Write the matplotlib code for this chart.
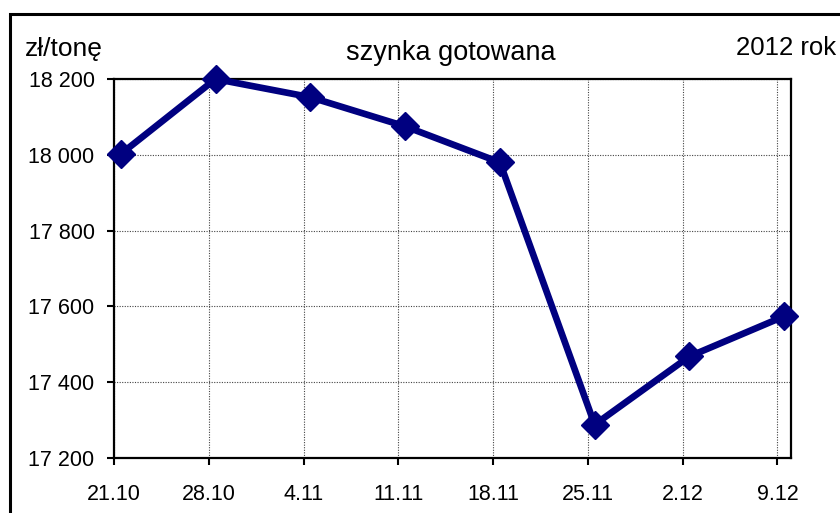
import matplotlib
matplotlib.use("Agg")
import matplotlib.pyplot as plt
from matplotlib.patches import Rectangle
from matplotlib.ticker import FuncFormatter
import pandas as pd

plt.rcParams["font.family"] = ["Liberation Sans", "DejaVu Sans"]

# notowania tygodniowe (środek dnia)
daty = pd.to_datetime([
    "2012-10-21 12:00", "2012-10-28 12:00", "2012-11-04 12:00", "2012-11-11 12:00",
    "2012-11-18 12:00", "2012-11-25 12:00", "2012-12-02 12:00", "2012-12-09 12:00",
])
ceny = [18002, 18200, 18152, 18075, 17980, 17288, 17468, 17574]
etykiety_x = ["21.10", "28.10", "4.11", "11.11", "18.11", "25.11", "2.12", "9.12"]
ticki_x = pd.to_datetime([
    "2012-10-21", "2012-10-28", "2012-11-04", "2012-11-11",
    "2012-11-18", "2012-11-25", "2012-12-02", "2012-12-09",
])

W, H = 840, 513
fig = plt.figure(figsize=(W / 100, H / 100), dpi=100)
ax = fig.add_axes([114 / W, 1 - 458 / H, (791 - 114) / W, (458 - 79) / H])

ax.plot(daty, ceny, color="#000080", linewidth=4.8, marker="D",
        markersize=14, solid_joinstyle="miter", zorder=3, clip_on=False)

ax.set_xlim(pd.Timestamp("2012-10-21"), pd.Timestamp("2012-12-10"))
ax.set_ylim(17200, 18200)
ax.set_xticks(ticki_x)
ax.set_xticklabels(etykiety_x)
ax.set_yticks(range(17200, 18201, 200))
ax.yaxis.set_major_formatter(FuncFormatter(lambda v, p: f"{v:,.0f}".replace(",", " ")))

ax.grid(True, color="#444444", linestyle=(0, (1, 1.3)), linewidth=0.8)
ax.tick_params(axis="both", length=5, width=1.5, labelsize=15.5, color="black")
ax.tick_params(axis="x", pad=14)
ax.tick_params(axis="y", pad=9)
for s in ax.spines.values():
    s.set_linewidth(1.6)
    s.set_color("black")

# ramka wykresu
fig.patches.append(Rectangle((10 / W, -0.1), 1.2, 1 - 14 / H + 0.1,
                             transform=fig.transFigure, fill=False,
                             edgecolor="black", linewidth=2.2))

fig.text(25 / W, 1 - 56 / H, "zł/tonę", fontsize=19, ha="left", va="baseline")
fig.text(451 / W, 1 - 60 / H, "szynka gotowana", fontsize=19.5, ha="center", va="baseline")
fig.text(836 / W, 1 - 55 / H, "2012 rok", fontsize=18.5, ha="right", va="baseline")

fig.savefig("out.png", dpi=100)
